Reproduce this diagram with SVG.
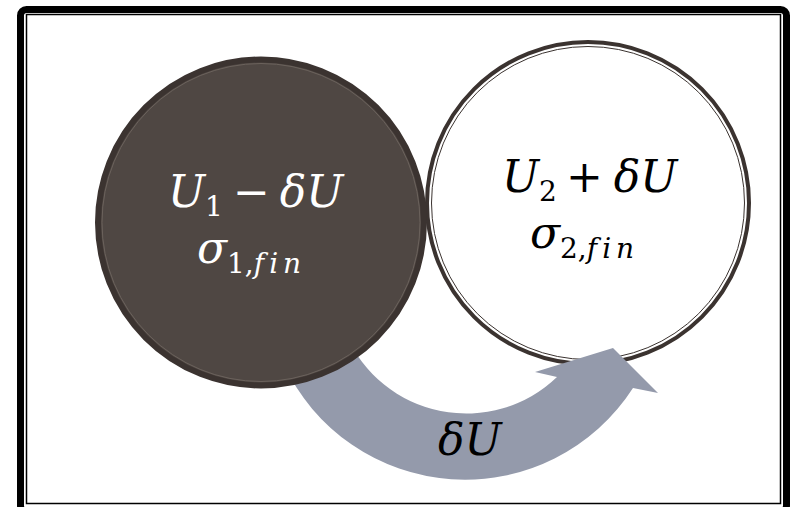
<svg xmlns="http://www.w3.org/2000/svg" width="800" height="507" viewBox="0 0 800 507">
<style>
.m{font-family:"DejaVu Serif","Liberation Serif",serif;font-size:44px;font-style:italic}
.up{font-style:normal}
.sub{font-style:normal;font-size:28px}
.si{font-style:italic;font-size:28px;letter-spacing:5px}
.w{fill:#ffffff}
.k{fill:#000000}
</style>
<rect width="800" height="507" fill="#ffffff"/>
<g id="frame">
<rect x="20.5" y="9.5" width="766" height="502" rx="6" fill="none" stroke="#000" stroke-width="7"/>
<rect x="26.5" y="14.5" width="754" height="489" fill="none" stroke="#000" stroke-width="1.5"/>
</g>
<g id="node-right">
<circle cx="588" cy="203" r="161" fill="#ffffff" stroke="#3b3330" stroke-width="4"/>
<circle cx="588" cy="203" r="156.5" fill="none" stroke="#3b3330" stroke-width="1"/>
<text class="m k" x="502" y="192">U<tspan class="sub" dy="9">2</tspan><tspan class="up" dy="-9" dx="9">+</tspan><tspan dx="11">δU</tspan></text>
<text class="m k" x="530" y="248">σ<tspan class="sub" dy="10">2,</tspan><tspan class="si">fin</tspan></text>
</g>
<g id="connectors">
<path d="M283.6 364.1 A200 200 0 0 0 633 388 L658 393 L613 348 L535 372 L557 377 A131 131 0 0 1 346.2 334.9 Z" fill="#949aab"/>
<text class="m k" x="438" y="455">δU</text>
</g>
<g id="node-left">
<circle cx="261" cy="222.5" r="163" fill="#4f4743" stroke="#3b3330" stroke-width="6"/>
<circle cx="261" cy="222.5" r="159" fill="none" stroke="#6b625c" stroke-width="1"/>
<text class="m w" x="168" y="207">U<tspan class="sub" dy="9">1</tspan><tspan class="up" dy="-9" dx="10">−</tspan><tspan dx="10">δU</tspan></text>
<text class="m w" x="197" y="263">σ<tspan class="sub" dy="10">1,</tspan><tspan class="si">fin</tspan></text>
</g>
</svg>
